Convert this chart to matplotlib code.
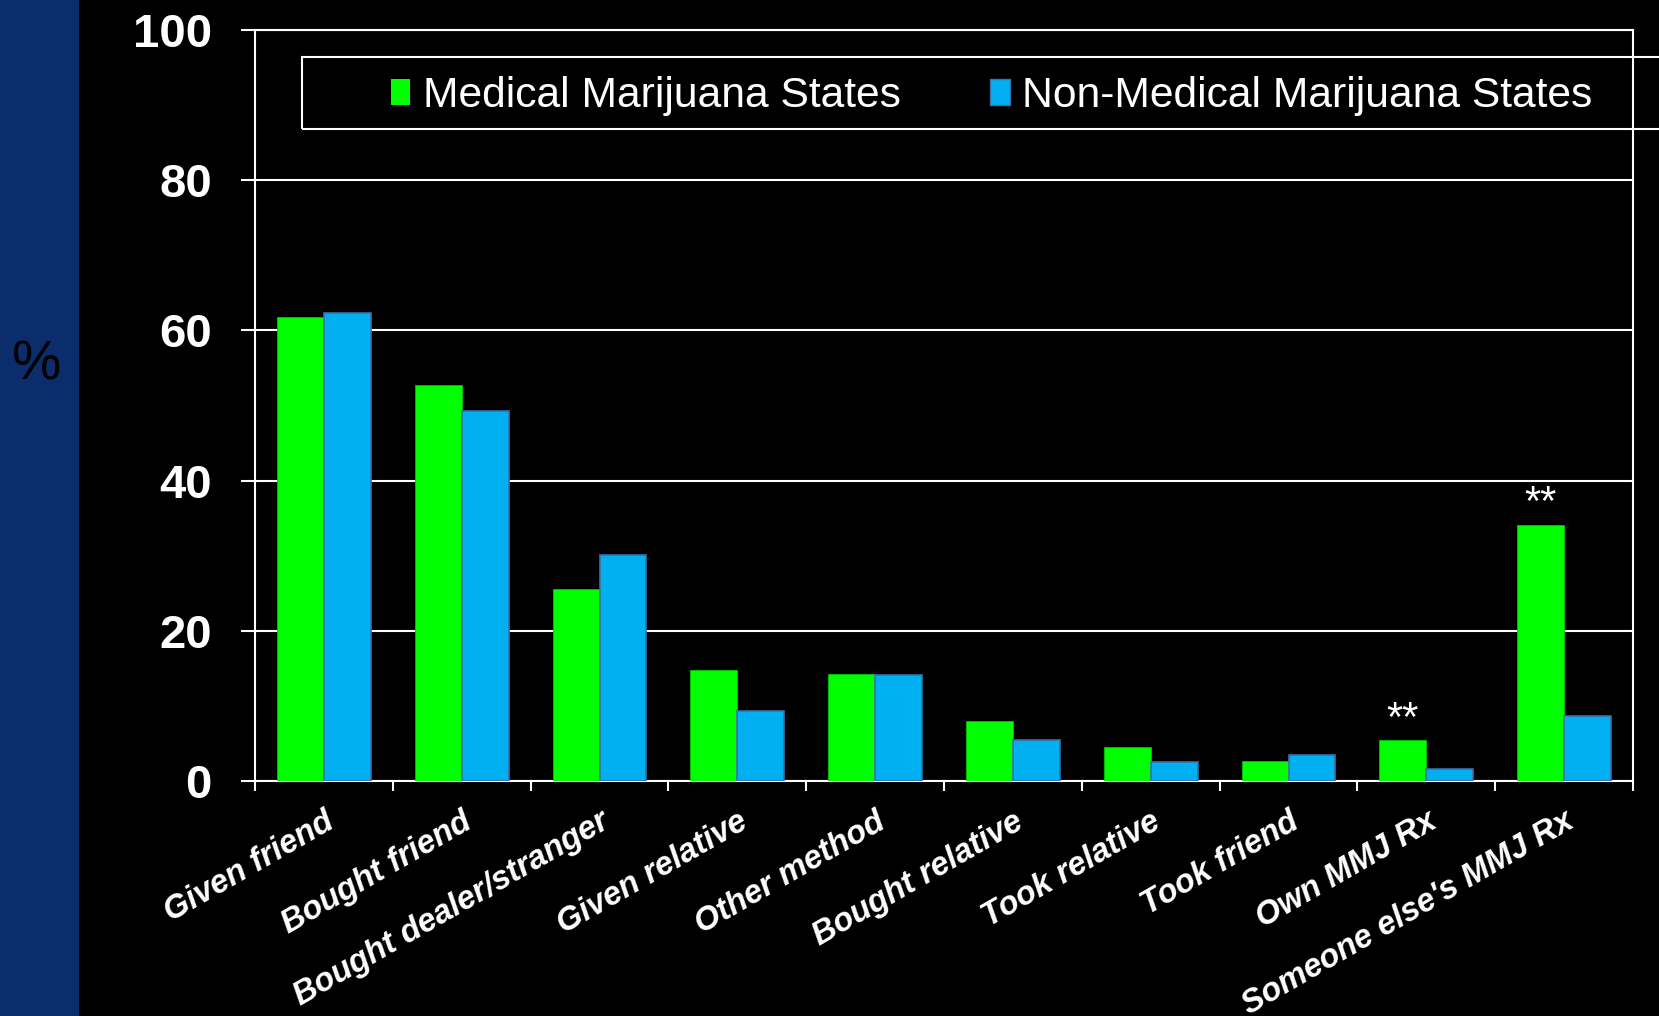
import matplotlib
matplotlib.use("Agg")
import matplotlib.pyplot as plt
from matplotlib.patches import Rectangle
from matplotlib.transforms import ScaledTranslation
import numpy as np

categories = ["Given friend", "Bought friend", "Bought dealer/stranger", "Given relative",
              "Other method", "Bought relative", "Took relative", "Took friend",
              "Own MMJ Rx", "Someone else's MMJ Rx"]
medical = [61.8, 52.7, 25.5, 14.8, 14.2, 8.0, 4.5, 2.7, 5.4, 34.1]
non_medical = [62.3, 49.3, 30.1, 9.3, 14.1, 5.4, 2.5, 3.5, 1.6, 8.6]
significant = [False, False, False, False, False, False, False, False, True, True]
series_names = ["Medical Marijuana States", "Non-Medical Marijuana States"]
yticks = [0, 20, 40, 60, 80, 100]

GREEN = "#00FF00"
BLUE = "#00B0F0"
FONT = "Liberation Sans"

W, H = 1659, 1016
fig = plt.figure(figsize=(W / 100, H / 100), dpi=100, facecolor="black")

# left blue strip
fig.patches.append(Rectangle((0, 0), 79 / W, 1, transform=fig.transFigure,
                             facecolor="#0C2D6C", edgecolor="none", zorder=0))
fig.text(37 / W, 1 - 366 / H, "%", color="black", fontsize=40, family=FONT,
         ha="center", va="center")

ax = fig.add_axes([255 / W, 235 / H, (1633 - 255) / W, (781 - 30) / H])
ax.set_facecolor("black")

x = np.arange(len(categories))
bw = 0.34
ax.bar(x - bw / 2, medical, bw, color=GREEN, edgecolor="#00C000", linewidth=0.6, zorder=3)
ax.bar(x + bw / 2, non_medical, bw, color=BLUE, edgecolor="#3F6FA8", linewidth=1.2, zorder=3)

for xi, v, s in zip(x, medical, significant):
    if s:
        ax.annotate("**", (xi - bw / 2, v), xytext=(0, 15), textcoords="offset points",
                    ha="center", va="center", color="white", fontsize=30, family=FONT)

ax.set_xlim(-0.5, len(categories) - 0.5)
ax.set_ylim(0, 100)
ax.set_yticks(yticks)
ax.set_yticklabels([str(t) for t in yticks], fontsize=34, fontweight="bold",
                   color="white", family=FONT)
ax.tick_params(axis="y", length=10, width=1.5, color="white", pad=21)

ax.set_xticks(x)
ax.set_xticklabels(categories, rotation=30, ha="right", va="top", rotation_mode="anchor",
                   fontsize=23.5, fontweight="bold", fontstyle="italic", color="white",
                   family=FONT)
shift = ScaledTranslation(-6 / 100, 0, fig.dpi_scale_trans)
for lbl in ax.get_xticklabels():
    lbl.set_transform(lbl.get_transform() + shift)
ax.tick_params(axis="x", which="major", length=0, pad=18)
ax.set_xticks(np.arange(-0.5, len(categories), 1), minor=True)
ax.tick_params(axis="x", which="minor", length=7, width=1.5, color="white")

ax.yaxis.grid(True, color="white", linewidth=1.5, zorder=0)
ax.set_axisbelow(True)
for sp in ax.spines.values():
    sp.set_color("white")
    sp.set_linewidth(1.5)

# legend
handles = [Rectangle((0, 0), 1, 1, facecolor=GREEN, edgecolor="none"),
           Rectangle((0, 0), 1, 1, facecolor=BLUE, edgecolor="#3F6FA8")]
leg = fig.legend(handles, series_names, loc="center left",
                 bbox_to_anchor=(391 / W, 1 - 96 / H), ncol=2, frameon=False,
                 prop={"family": FONT, "size": 30.7}, labelcolor="white",
                 handlelength=0.45, handleheight=0.57, handletextpad=0.3,
                 columnspacing=2.1, borderpad=0, borderaxespad=0)
fig.patches.append(Rectangle((302 / W, 1 - 129 / H), (1720 - 302) / W, 72 / H,
                             transform=fig.transFigure, facecolor="none",
                             edgecolor="white", linewidth=1.5, zorder=5))

fig.savefig("out.png", dpi=100, facecolor="black")
